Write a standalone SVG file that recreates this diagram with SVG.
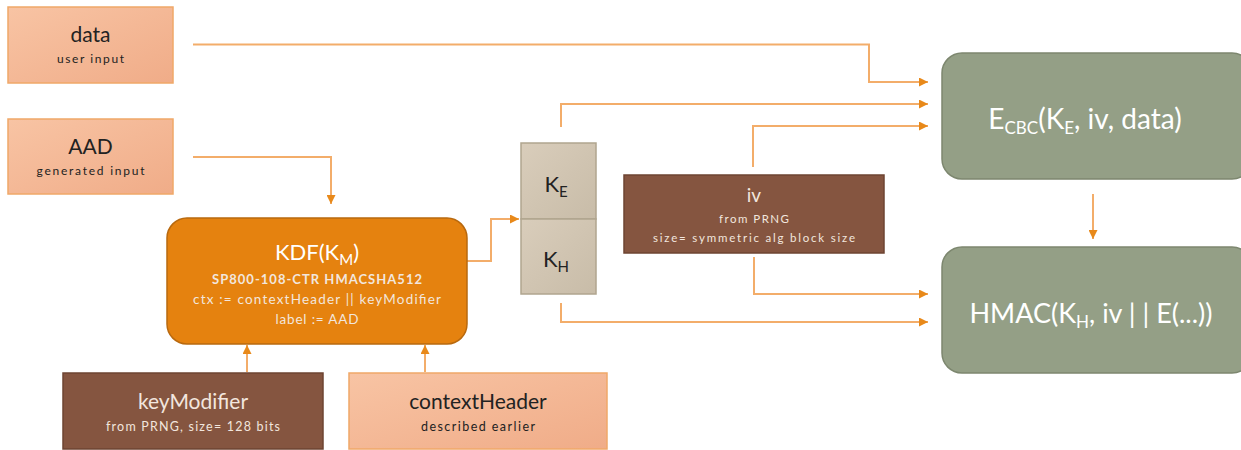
<svg xmlns="http://www.w3.org/2000/svg" width="1241" height="450" viewBox="0 0 1241 450">
<style>
text{font-family:Lato,"Open Sans","Liberation Sans",sans-serif;text-anchor:middle}
.peach{fill:url(#gPeach);stroke:#f0a868;stroke-width:1.5}
.brown{fill:#855540;stroke:#6e4432;stroke-width:1.5}
.green{fill:#949f86;stroke:#7d876f;stroke-width:1.5}
.kbox{fill:url(#gK);stroke:#b0a58f;stroke-width:1.5}
.conn{fill:none;stroke:#f3ad6a;stroke-width:2}
.dk{fill:#222}
.wt{fill:#fff}
.lt{fill:#f2e6de}
</style>
<defs>
<linearGradient id="gPeach" x1="0" y1="0" x2="1" y2="1">
<stop offset="0" stop-color="#f8c4a4"/>
<stop offset="1" stop-color="#f0ac88"/>
</linearGradient>
<linearGradient id="gK" x1="0" y1="0" x2="1" y2="1">
<stop offset="0" stop-color="#d9cdbb"/>
<stop offset="1" stop-color="#c8bca8"/>
</linearGradient>
<marker id="arr" viewBox="0 0 10 10" refX="10" refY="5" markerWidth="10" markerHeight="9" markerUnits="userSpaceOnUse" orient="auto">
<path d="M0,0 L10,5 L0,10 Z" fill="#e8891a"/>
</marker>
</defs>

<g id="connectors">
<path class="conn" marker-end="url(#arr)" d="M193,44.5 H869 V82 H928"/>
<path class="conn" marker-end="url(#arr)" d="M193,157 H331 V204"/>
<path class="conn" marker-end="url(#arr)" d="M465,261 H491 V219 H519"/>
<path class="conn" marker-end="url(#arr)" d="M561,127 V104 H928"/>
<path class="conn" marker-end="url(#arr)" d="M753,167 V126 H928"/>
<path class="conn" marker-end="url(#arr)" d="M754,257 V294 H928"/>
<path class="conn" marker-end="url(#arr)" d="M561,303 V322 H928"/>
<path class="conn" marker-end="url(#arr)" d="M247,372 V345"/>
<path class="conn" marker-end="url(#arr)" d="M425,372 V345"/>
<path class="conn" stroke="#e8891a" stroke-width="1.5" marker-end="url(#arr)" d="M1093,194 V239"/>
</g>

<g id="data">
<rect class="peach" x="8" y="7" width="165" height="76"/>
<text class="dk" x="90.5" y="42" font-size="21">data</text>
<text class="dk" x="90.5" y="63" font-size="12" textLength="67" lengthAdjust="spacing">user input</text>
</g>

<g id="aad">
<rect class="peach" x="8" y="119" width="165" height="75"/>
<text class="dk" x="90.5" y="154" font-size="21">AAD</text>
<text class="dk" x="90.5" y="175" font-size="12" textLength="108" lengthAdjust="spacing">generated input</text>
</g>

<g id="kdf">
<rect x="167" y="218" width="300" height="126" rx="20" fill="#e5820f" stroke="#b8690f" stroke-width="1.5"/>
<text class="wt" x="317" y="260" font-size="22">KDF(K<tspan font-size="15" dy="5">M</tspan><tspan dy="-5">)</tspan></text>
<text class="lt" x="317" y="284" font-size="13" font-weight="bold" textLength="210" lengthAdjust="spacing">SP800-108-CTR  HMACSHA512</text>
<text class="lt" x="317" y="304" font-size="13.5" textLength="248" lengthAdjust="spacing">ctx := contextHeader || keyModifier</text>
<text class="lt" x="317" y="324" font-size="13.5" textLength="83" lengthAdjust="spacing">label := AAD</text>
</g>

<g id="keys">
<rect class="kbox" x="521" y="143" width="75" height="76"/>
<rect class="kbox" x="521" y="219" width="75" height="75"/>
<text class="dk" x="556" y="192" font-size="22">K<tspan font-size="15" dy="5">E</tspan></text>
<text class="dk" x="556" y="267" font-size="22">K<tspan font-size="15" dy="5">H</tspan></text>
</g>

<g id="iv">
<rect class="brown" x="624" y="175" width="260" height="78"/>
<text class="lt" x="754" y="202" font-size="19">iv</text>
<text class="lt" x="754" y="223" font-size="11.5" textLength="70" lengthAdjust="spacing">from PRNG</text>
<text class="lt" x="754" y="242" font-size="11.5" textLength="202" lengthAdjust="spacing">size= symmetric alg block size</text>
</g>

<g id="keyModifier">
<rect class="brown" x="63" y="373" width="260" height="76"/>
<text class="lt" x="193" y="409" font-size="21">keyModifier</text>
<text class="lt" x="193" y="431" font-size="12.5" textLength="174" lengthAdjust="spacing">from PRNG, size= 128 bits</text>
</g>

<g id="contextHeader">
<rect class="peach" x="349" y="373" width="258" height="76"/>
<text class="dk" x="478" y="409" font-size="21">contextHeader</text>
<text class="dk" x="478" y="431" font-size="12.5" textLength="114" lengthAdjust="spacing">described earlier</text>
</g>

<g id="ecbc">
<rect class="green" x="942" y="53" width="310" height="126" rx="20"/>
<text class="wt" x="1085" y="129" font-size="28">E<tspan font-size="17" dy="5">CBC</tspan><tspan dy="-5">(K</tspan><tspan font-size="17" dy="5">E</tspan><tspan dy="-5">, iv, data)</tspan></text>
</g>

<g id="hmac">
<rect class="green" x="942" y="247" width="310" height="126" rx="20"/>
<text class="wt" x="1091" y="323" font-size="27">HMAC(K<tspan font-size="17" dy="5">H</tspan><tspan dy="-5">, iv | | E(...))</tspan></text>
</g>
</svg>
